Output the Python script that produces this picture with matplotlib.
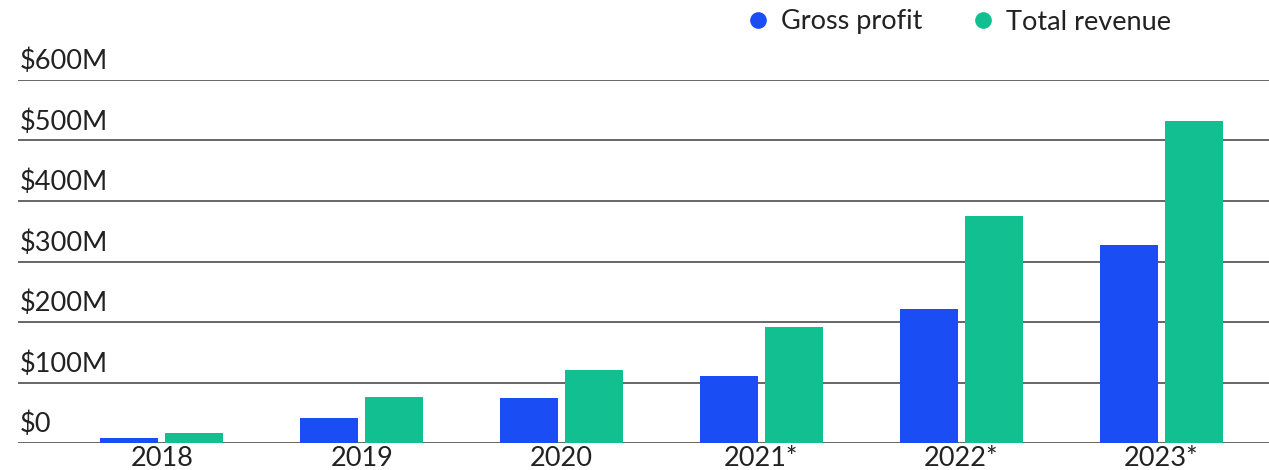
import matplotlib
matplotlib.use("Agg")
import matplotlib.pyplot as plt
from matplotlib.lines import Line2D
import numpy as np

years = ["2018", "2019", "2020", "2021*", "2022*", "2023*"]
gross_profit = [8, 42, 74, 111, 222, 328]      # $M
total_revenue = [16, 76, 121, 192, 376, 533]   # $M
yticks = [0, 100, 200, 300, 400, 500, 600]
ytick_labels = ["$0", "$100M", "$200M", "$300M", "$400M", "$500M", "$600M"]

BLUE = "#1a4ef4"
GREEN = "#12bf90"
GRID = "#5a5a5a"
TEXT = "#222222"

plt.rcParams['font.family'] = ['Lato', 'DejaVu Sans']

W, H = 1269, 470
fig = plt.figure(figsize=(W / 100, H / 100), dpi=100)
ax = fig.add_axes([18 / W, 1 - 443 / H, 1 - 18 / W, (443 - 80) / H])

x = np.arange(len(years))
bw = 0.29
off = 0.1625
ax.bar(x - off, gross_profit, width=bw, color=BLUE, zorder=3)
ax.bar(x + off, total_revenue, width=bw, color=GREEN, zorder=3)

ax.set_ylim(0, 600)
ax.set_xlim(-0.72, 5.54)
for s in ax.spines.values():
    s.set_visible(False)
ax.set_yticks([])
for v in yticks:
    ax.axhline(v, color=GRID, lw=1.3, zorder=2)
for v, lab in zip(yticks, ytick_labels):
    ax.annotate(lab, xy=(0, v), xycoords=('axes fraction', 'data'),
                xytext=(1.5, 4), textcoords='offset points',
                ha='left', va='bottom', fontsize=19.5, color=TEXT)

ax.set_xticks(x)
ax.set_xticklabels(years, fontsize=19.5, color=TEXT)
ax.tick_params(axis='x', length=0, pad=2)

handles = [Line2D([], [], marker='o', ls='', color=BLUE, markersize=11),
           Line2D([], [], marker='o', ls='', color=GREEN, markersize=11)]
fig.legend(handles, ["Gross profit", "Total revenue"], loc='center right',
           bbox_to_anchor=(1182 / W, 1 - 22 / H), ncol=2, frameon=False,
           fontsize=19.5, handletextpad=0.35, columnspacing=1.75, handlelength=1.0,
           labelcolor=TEXT, borderaxespad=0)

fig.savefig("out.png", dpi=100)
